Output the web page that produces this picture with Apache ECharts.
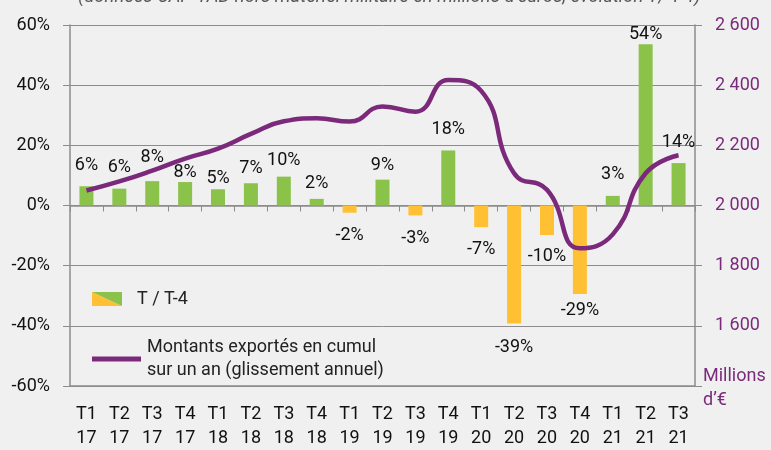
<!DOCTYPE html>
<html lang="fr">
<head>
    <meta charset="UTF-8">
    <title>Exportations CAP-TAD</title>
    <style>
        html, body { margin: 0; padding: 0; background: #f0f0f0; }
        #main { width: 771px; height: 450px; }
    </style>
</head>
<body>
<div id="main"></div>
<script src="https://cdn.jsdelivr.net/npm/echarts@6/dist/echarts.min.js"></script>
<script>
    // trimestres et années (axe des abscisses)
    const quarters = ['T1', 'T2', 'T3', 'T4', 'T1', 'T2', 'T3', 'T4', 'T1', 'T2', 'T3', 'T4', 'T1', 'T2', 'T3', 'T4', 'T1', 'T2', 'T3'];
    const years = ['17', '17', '17', '17', '18', '18', '18', '18', '19', '19', '19', '19', '20', '20', '20', '20', '21', '21', '21'];
    // évolution T / T-4 en %
    const growth = [6.4, 5.6, 8.1, 7.8, 5.4, 7.4, 9.6, 2.2, -2.4, 8.6, -3.3, 18.3, -7.2, -39.2, -9.8, -29.4, 3.2, 53.6, 14.1];
    // montants exportés en cumul sur un an (millions d'euros)
    const cumul = [2050, 2080, 2116, 2156, 2189, 2238, 2280, 2290, 2279, 2329, 2312, 2417, 2381, 2107, 2052, 1858, 1904, 2107, 2167];

    const categories = quarters.map((q, i) => q + '\n' + years[i]);

    const GREEN = '#8bc34a', YELLOW = '#ffc133', PURPLE = '#7b2a7b', GRID = '#8c8c8c';
    const FONT = 'Roboto, "Noto Sans", sans-serif';

    // petits décalages des étiquettes (placées à la main dans l'original)
    const labelDy = [-1, -1, -4, 10, 9, 5, 4, 5, 3, 6, 3, -1, 2, 4, 2, -3, -1, 10, -1];

    const legendIcon = 'image://data:image/svg+xml;utf8,' + encodeURIComponent(
        '<svg xmlns="http://www.w3.org/2000/svg" width="30" height="14">' +
        '<polygon points="0,0 0,14 30,14" fill="' + YELLOW + '"/>' +
        '<polygon points="0,0 30,0 30,14" fill="' + GREEN + '"/></svg>');

    const myChart = echarts.init(document.getElementById('main'));

    myChart.setOption({
        backgroundColor: '#f0f0f0',
        animation: false,
        textStyle: { fontFamily: FONT },
        grid: { left: 70, right: 76, top: 25, bottom: 60 },
        graphic: [
            {
                type: 'text', left: 78, top: -12,
                style: {
                    text: '(données CAP-TAD hors matériel militaire en millions d\u2019euros, évolution T/ T-4)',
                    font: 'italic 18.5px ' + FONT, fill: '#595959'
                }
            },
            {
                type: 'text', left: 703, top: 364,
                style: {
                    text: 'Millions\nd\u2019€', font: '18px ' + FONT, fill: PURPLE,
                    lineHeight: 24, align: 'center', width: 68
                }
            }
        ],
        legend: [
            {
                data: [{ name: 'T / T-4', icon: legendIcon }],
                left: 92, top: 290, padding: 0,
                itemWidth: 30, itemHeight: 14,
                selectedMode: false,
                textStyle: { fontSize: 18, color: '#222', padding: [0, 0, 0, 10], fontFamily: FONT }
            },
            {
                data: [{ name: 'cumul', icon: 'rect', itemStyle: { color: PURPLE } }],
                formatter: () => 'Montants exportés en cumul\nsur un an (glissement annuel)',
                left: 92, top: 336, padding: 0,
                itemWidth: 49, itemHeight: 5,
                selectedMode: false,
                textStyle: { fontSize: 18, color: '#222', lineHeight: 23, padding: [0, 0, 0, 1], fontFamily: FONT }
            }
        ],
        xAxis: [
            {
                type: 'category',
                data: categories,
                position: 'bottom',
                axisLine: { onZero: false, lineStyle: { color: GRID, width: 1.5 } },
                axisTick: { show: false },
                axisLabel: { color: '#111', fontSize: 18, lineHeight: 24, margin: 16, interval: 0 }
            },
            {
                type: 'category',
                data: categories,
                position: 'bottom',
                axisLine: { onZero: true, onZeroAxisIndex: 0, lineStyle: { color: GRID, width: 1.5 } },
                axisTick: { show: true, length: 6, lineStyle: { color: GRID } },
                axisLabel: { show: false }
            }
        ],
        yAxis: [
            {
                type: 'value',
                min: -60, max: 60, interval: 20,
                axisLine: { show: true, lineStyle: { color: GRID, width: 1.5 } },
                axisTick: { show: true, length: 7, lineStyle: { color: GRID } },
                axisLabel: { formatter: v => v + '%', color: '#111', fontSize: 18, margin: 20 },
                splitLine: { lineStyle: { color: GRID, width: 1 } }
            },
            {
                type: 'value',
                min: 1400, max: 2600, interval: 200,
                axisLine: { show: true, lineStyle: { color: GRID, width: 1.5 } },
                axisTick: { show: true, length: 7, lineStyle: { color: GRID } },
                axisLabel: {
                    formatter: v => v === 1400 ? '' : String(v).replace(/(\d)(\d{3})$/, '$1 $2'),
                    color: PURPLE, fontSize: 18, margin: 20
                },
                splitLine: { show: false }
            }
        ],
        series: [
            {
                name: 'T / T-4',
                type: 'bar',
                xAxisIndex: 0,
                yAxisIndex: 0,
                barWidth: 14,
                data: growth.map((v, i) => ({
                    value: v,
                    itemStyle: { color: v >= 0 ? GREEN : YELLOW },
                    label: { offset: [0, labelDy[i]] }
                })),
                label: {
                    show: true,
                    position: 'outside',
                    distance: 11,
                    fontSize: 18,
                    color: '#111',
                    formatter: p => Math.round(p.value) + '%'
                }
            },
            {
                name: 'cumul',
                type: 'line',
                xAxisIndex: 0,
                yAxisIndex: 1,
                data: cumul,
                smooth: 0.5,
                symbol: 'none',
                z: 5,
                lineStyle: { color: PURPLE, width: 4.5 },
                itemStyle: { color: PURPLE }
            }
        ]
    });
</script>
</body>
</html>
